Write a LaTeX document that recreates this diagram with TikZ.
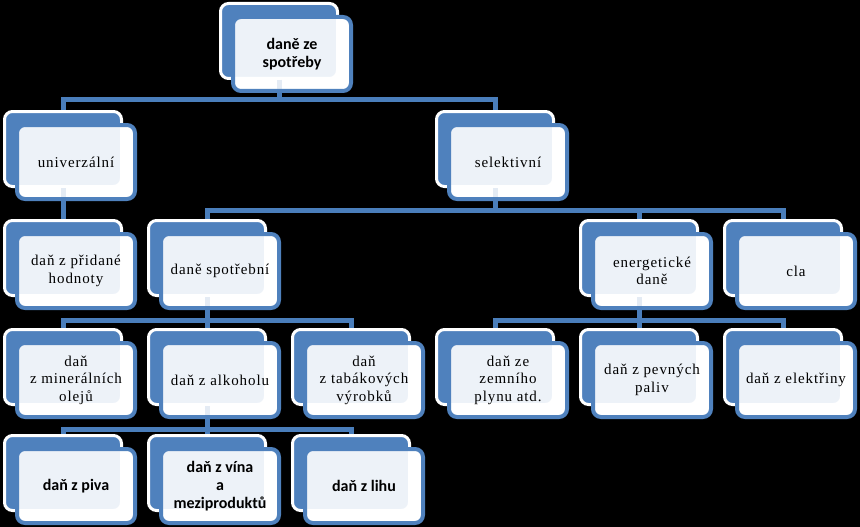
\documentclass[tikz,border=0pt]{standalone}
\usepackage{fontspec}
\usepackage{tikz}
\usetikzlibrary{calc,positioning}
\setmainfont{Liberation Serif}
\newfontfamily\sansnode{Carlito}
\definecolor{boxblue}{HTML}{4F81BD}
\definecolor{lineblue}{HTML}{4A7EBB}
\tikzstyle{under}=[rectangle,rounded corners=8pt,minimum width=118pt,minimum height=74pt,inner sep=0pt,fill=white]
\tikzstyle{back}=[rectangle,rounded corners=8pt,minimum width=117pt,minimum height=75pt,inner sep=0pt,fill=boxblue,draw=white,line width=3pt]
\tikzstyle{front}=[under,draw=boxblue,line width=4pt,fill opacity=.9,text opacity=1,align=center,font=\rmfamily\addfontfeature{LetterSpace=6}\fontsize{15}{17.5}\selectfont]
\tikzstyle{frontbold}=[front,font=\sansnode\bfseries\fontsize{16}{18}\selectfont]
\tikzstyle{line}=[line width=5pt,draw=lineblue]
\tikzstyle{stub}=[line,draw opacity=.15]

\begin{document}
\begin{tikzpicture}[x=1pt,y=-1pt]

    \useasboundingbox (0,0) rectangle (860,527);
    \fill[black] (0,0) rectangle (860,527);

    \node[under] at (292,54) {};
    \node[back] (spotreba) at (279,41) {};
    \node[frontbold] (spotrebaf) at (292,54) {daně ze\\ spotřeby};
    \node[under] at (76,162) {};
    \node[back] (univ) at (63,149) {};
    \node[front] (univf) at (76,162) {univerzální};
    \node[under] at (508,162) {};
    \node[back] (sel) at (495,149) {};
    \node[front] (self) at (508,162) {selektivní};
    \node[under] at (76,271) {};
    \node[back] (dph) at (63,258) {};
    \node[front] (dphf) at (76,271) {daň z přidané\\ hodnoty};
    \node[under] at (220,271) {};
    \node[back] (spotrebni) at (207,258) {};
    \node[front] (spotrebnif) at (220,271) {daně spotřební};
    \node[under] at (652,271) {};
    \node[back] (energ) at (639,258) {};
    \node[front] (energf) at (652,271) {energetické\\ daně};
    \node[under] at (796,271) {};
    \node[back] (cla) at (783,258) {};
    \node[front] (claf) at (796,271) {cla};
    \node[under] at (76,380) {};
    \node[back] (mineral) at (63,367) {};
    \node[front] (mineralf) at (76,380) {daň\\ z minerálních\\ olejů};
    \node[under] at (220,380) {};
    \node[back] (alkohol) at (207,367) {};
    \node[front] (alkoholf) at (220,380) {daň z alkoholu};
    \node[under] at (364,380) {};
    \node[back] (tabak) at (351,367) {};
    \node[front] (tabakf) at (364,380) {daň\\ z tabákových\\ výrobků};
    \node[under] at (508,380) {};
    \node[back] (plyn) at (495,367) {};
    \node[front] (plynf) at (508,380) {daň ze\\ zemního\\ plynu atd.};
    \node[under] at (652,380) {};
    \node[back] (paliva) at (639,367) {};
    \node[front] (palivaf) at (652,380) {daň z pevných\\ paliv};
    \node[under] at (796,380) {};
    \node[back] (elektrina) at (783,367) {};
    \node[front] (elektrinaf) at (796,380) {daň z elektřiny};
    \node[under] at (76,486) {};
    \node[back] (pivo) at (63,473) {};
    \node[frontbold] (pivof) at (76,486) {daň z piva};
    \node[under] at (220,486) {};
    \node[back] (vino) at (207,473) {};
    \node[frontbold] (vinof) at (220,486) {daň z vína\\ a\\ meziproduktů};
    \node[under] at (364,486) {};
    \node[back] (lihu) at (351,473) {};
    \node[frontbold] (lihuf) at (364,486) {daň z lihu};

    \coordinate (bus1) at (0,100);
    \coordinate (bus2) at (0,210);
    \coordinate (bus3) at (0,320);
    \coordinate (bus4) at (0,429);

    \draw[stub] (spotreba.south) -- (spotrebaf.south -| spotreba);
    \draw[stub] (univ.south) -- (univf.south -| univ);
    \draw[stub] (sel.south) -- (self.south -| sel);
    \draw[stub] (spotrebni.south) -- (spotrebnif.south -| spotrebni);
    \draw[stub] (energ.south) -- (energf.south -| energ);
    \draw[stub] (alkohol.south) -- (alkoholf.south -| alkohol);

    \draw[line] (spotrebaf.south -| spotreba) -- (spotreba |- bus1) -| (univ.north);
    \draw[line] (spotreba |- bus1) -| (sel.north);
    \draw[line] (univf.south -| univ) -- (dph.north);
    \draw[line] (self.south -| sel) -- (sel |- bus2) -| (spotrebni.north);
    \draw[line] (sel |- bus2) -| (energ.north);
    \draw[line] (sel |- bus2) -| (cla.north);
    \draw[line] (spotrebnif.south -| spotrebni) -- (spotrebni |- bus3) -| (mineral.north);
    \draw[line] (spotrebni |- bus3) -| (alkohol.north);
    \draw[line] (spotrebni |- bus3) -| (tabak.north);
    \draw[line] (energf.south -| energ) -- (energ |- bus3) -| (plyn.north);
    \draw[line] (energ |- bus3) -| (paliva.north);
    \draw[line] (energ |- bus3) -| (elektrina.north);
    \draw[line] (alkoholf.south -| alkohol) -- (alkohol |- bus4) -| (pivo.north);
    \draw[line] (alkohol |- bus4) -| (vino.north);
    \draw[line] (alkohol |- bus4) -| (lihu.north);
  \end{tikzpicture}
\end{document}
